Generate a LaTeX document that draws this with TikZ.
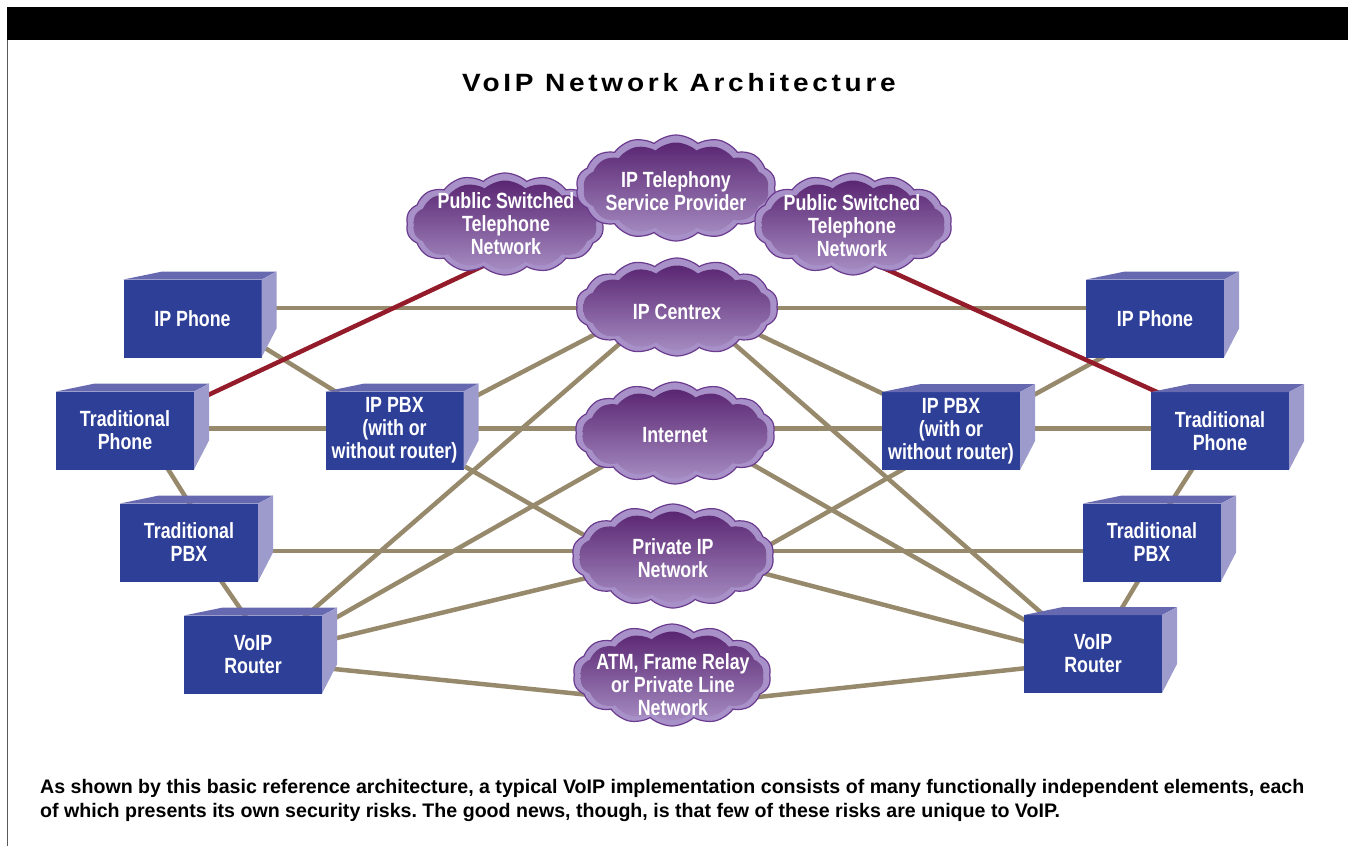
\documentclass[tikz,border=0pt]{standalone}
\usepackage{fontspec}
\setmainfont{Liberation Sans}
\newfontfamily\condfont[FakeStretch=0.81]{Liberation Sans}
\newfontfamily\titlefam[FakeStretch=1.12,LetterSpace=15]{Liberation Sans}
\usetikzlibrary{shapes.symbols,calc}
\pgfdeclarelayer{background}
\pgfsetlayers{background,main}
\frenchspacing

\definecolor{unitfront}{HTML}{2E3F98}
\definecolor{unittopc}{HTML}{6668B0}
\definecolor{unitsidec}{HTML}{9C9BCB}
\definecolor{linktan}{HTML}{978A6C}
\definecolor{linkred}{HTML}{941B2A}
\definecolor{cloudedge}{HTML}{6A3A8E}
\definecolor{cloudrimc}{HTML}{A890C8}
\definecolor{cloudtopc}{HTML}{5A2672}
\definecolor{cloudbotc}{HTML}{A58BC1}

\tikzset{
  unit/.style={rectangle, fill=unitfront, minimum width=138pt, minimum height=78pt,
    inner sep=0pt, outer sep=0pt, text=white, align=center,
    font=\condfont\bfseries\fontsize{22}{23}\selectfont},
  unittop/.style={fill=unittopc},
  unitside/.style={fill=unitsidec},
  cloudrim/.style={cloud, cloud puffs=14, cloud puff arc=85, aspect=2,
    inner sep=0pt, fill=cloudrimc, draw=cloudedge, line width=1.2pt},
  cloudcore/.style={cloud, cloud puffs=14, cloud puff arc=85, aspect=2,
    inner sep=0pt, top color=cloudtopc, bottom color=cloudbotc},
  cloudtext/.style={text=white, align=center, inner sep=0pt,
    font=\condfont\bfseries\fontsize{22}{23}\selectfont},
  link/.style={draw=linktan, line width=4.5pt},
  pstnlink/.style={draw=linkred, line width=4.5pt},
  captext/.style={anchor=base west, inner sep=0pt, font=\bfseries\fontsize{19.6}{24}\selectfont},
}

% a network unit drawn as a box: front face plus top and side faces
\newcommand\unitbox[3]{%
  \node[unit] (#1) at (#2) {#3};
  \fill[unittop] (#1.north west) -- ++(39,-8) -- ($(#1.north east)+(15,-8)$) -- (#1.north east) -- cycle;
  \fill[unitside] (#1.north east) -- ++(15,-8) -- ++(0,57) -- (#1.south east) -- cycle;
}
% a network cloud: outlined rim with a shaded core
\newcommand\netcloud[4]{%
  \node[cloudrim, minimum width=#3pt, minimum height=#4pt] (#1-rim) at (#2) {};
  \node[cloudcore, minimum width=#3pt-14pt, minimum height=#4pt-13pt] (#1) at ($(#2)+(0,1)$) {};
}
\newcommand\cloudlabel[3]{\node[cloudtext] (#1-text) at (#2) {#3};}

\begin{document}
\begin{tikzpicture}[x=1pt,y=-1pt]
\useasboundingbox (0,0) rectangle (1348,846);

% frame
\fill[black] (7,7) rectangle (1348,40);
\draw[gray!70!black, line width=1.5pt] (7.5,40) -- (7.5,846);

% title
\node[font=\titlefam\bfseries\fontsize{25}{30}\selectfont, anchor=base] (title) at (679,91) {VoIP Network Architecture};

% clouds
\netcloud{pstnL}{505,224}{198}{102}
\netcloud{itsp}{676,188}{200}{106}
\netcloud{pstnR}{853,224}{198}{102}
\netcloud{centrex}{677,307}{202}{98}
\netcloud{internet}{675,433}{200}{102}
\netcloud{private}{673,556}{202}{104}
\netcloud{atm}{672,675}{198}{102}

\cloudlabel{pstnL}{506,224}{Public Switched\\Telephone\\Network}
\cloudlabel{itsp}{676,191}{IP Telephony\\Service Provider}
\cloudlabel{pstnR}{852,226}{Public Switched\\Telephone\\Network}
\cloudlabel{centrex}{677,312}{IP Centrex}
\cloudlabel{internet}{675,435}{Internet}
\cloudlabel{private}{673,558.5}{Private IP\\Network}
\cloudlabel{atm}{673,685}{ATM, Frame Relay\\or Private Line\\Network}

% units, left side
\unitbox{ipphL}{192.5,318.5}{IP Phone}
\unitbox{tphL}{125,430.5}{Traditional\\Phone}
\unitbox{ippbxL}{394.5,430.5}{IP PBX\\(with or\\without router)}
\unitbox{tpbxL}{189,542.5}{Traditional\\PBX}
\unitbox{vrL}{253,654.5}{VoIP\\Router}
% units, right side
\unitbox{ipphR}{1155,318.5}{IP Phone}
\unitbox{ippbxR}{951,431}{IP PBX\\(with or\\without router)}
\unitbox{tphR}{1220,431}{Traditional\\Phone}
\unitbox{tpbxR}{1152,542.5}{Traditional\\PBX}
\unitbox{vrR}{1093,654}{VoIP\\Router}

% links
\begin{pgfonlayer}{background}
\draw[link] ($(ipphL)+(0,-10.5)$) -- ($(ipphR)+(0,-10.5)$);
\draw[link] ($(tphL)+(0,-2)$) -- ($(tphR)+(0,-2.5)$);
\draw[link] ($(tpbxL)+(0,8.5)$) -- ($(tpbxR)+(0,8.5)$);
\draw[link] ($(ipphL)+(37.5,7.9)$) -- ($(ippbxL)+(-24.5,-17.6)$);
\draw[link] ($(ippbxL)+(35.5,-10.5)$) -- ($(centrex)+(-27,-2.3)$);
\draw[link] ($(ippbxL)+(35.5,16)$) -- ($(private)+(-23,16)$);
\draw[link] ($(vrL)+(25,-14.5)$) -- ($(centrex)+(-30,12)$);
\draw[link] ($(vrL)+(27,-5)$) -- ($(internet)+(-25,5.4)$);
\draw[link] ($(vrL)+(27,-2.8)$) -- ($(private)+(-23,5.7)$);
\draw[link] ($(vrL)+(27,9)$) -- ($(atm)+(-23,25)$);
\draw[link] ($(tpbxL)+(17.8,17.5)$) -- ($(vrL)+(8.8,-14.5)$);
\draw[link] ($(tphL)+(31,19.5)$) -- ($(tpbxL)+(11,-22.5)$);
\draw[link] ($(ippbxR)+(49,-17.5)$) -- ($(ipphR)+(-25,23.7)$);
\draw[link] ($(centrex)+(23,-1.3)$) -- ($(ippbxR)+(-41,-24.4)$);
\draw[link] ($(ippbxR)+(-21,23)$) -- ($(private)+(67,4.7)$);
\draw[link] ($(centrex)+(23,6)$) -- ($(vrR)+(-23,-16)$);
\draw[link] ($(internet)+(25,0.5)$) -- ($(vrR)+(-23,-8)$);
\draw[link] ($(private)+(27,-0.3)$) -- ($(vrR)+(-23,-0.5)$);
\draw[link] ($(atm)+(27,27.4)$) -- ($(vrR)+(-23,9.4)$);
\draw[link] ($(tphR)+(-15.5,19)$) -- ($(tpbxR)+(7.6,-22.5)$);
\draw[link] ($(tpbxR)+(-1.3,17.5)$) -- ($(vrR)+(9.7,-14)$);
\draw[pstnlink] ($(tphL)+(45,-17.6)$) -- ($(pstnL)+(15,23.7)$);
\draw[pstnlink] ($(pstnR)+(7,32.4)$) -- ($(tphR)+(-30,-24)$);
\end{pgfonlayer}

% caption
\node[captext] (cap1) at (40,793)
  {As shown by this basic reference architecture, a typical VoIP implementation consists of many functionally independent elements, each};
\node[captext] (cap2) at (40,817)
  {of which presents its own security risks. The good news, though, is that few of these risks are unique to VoIP.};
\end{tikzpicture}
\end{document}
